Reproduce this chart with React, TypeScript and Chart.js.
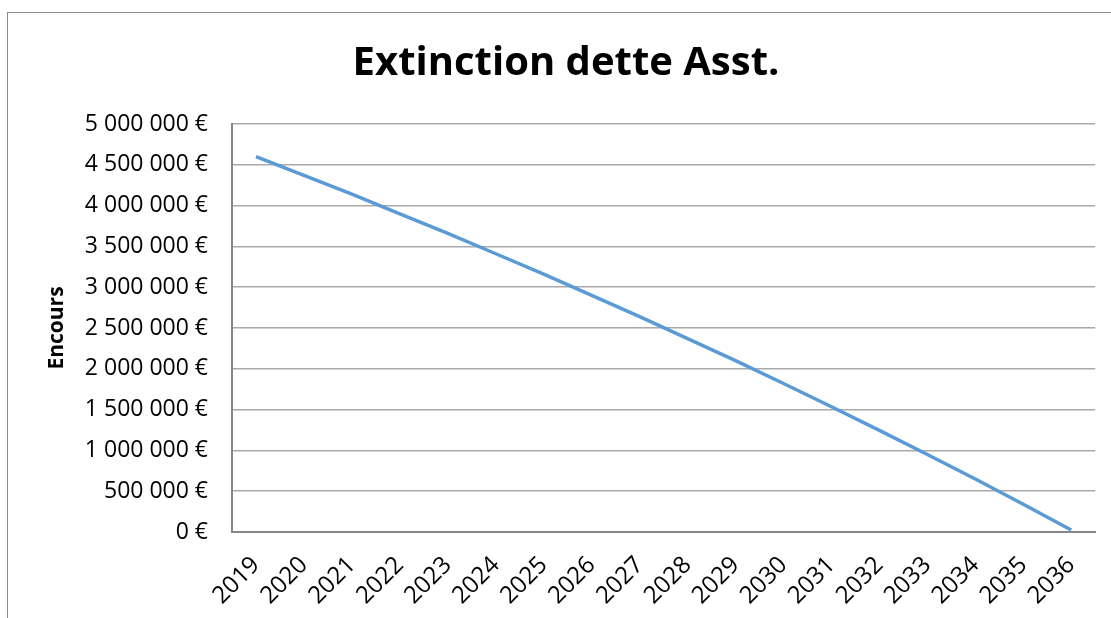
import React, { useEffect, useRef } from "react";
import { Chart, registerables } from "chart.js";

Chart.register(...registerables);

const chartTitle = "Extinction dette Asst.";
const yAxisTitle = "Encours";

const years = [
  "2019", "2020", "2021", "2022", "2023", "2024", "2025", "2026", "2027",
  "2028", "2029", "2030", "2031", "2032", "2033", "2034", "2035", "2036",
];

const encours = [
  4600000, 4370000, 4140000, 3900000, 3660000, 3410000, 3160000, 2900000, 2640000,
  2370000, 2100000, 1820000, 1535000, 1245000, 950000, 650000, 340000, 25000,
];

const yMin = 0;
const yMax = 5000000;
const yStep = 500000;

const FONT = '"Open Sans", "Noto Sans", sans-serif';

function formatEuro(v: number): string {
  const s = String(Math.round(v)).replace(/\B(?=(\d{3})+(?!\d))/g, " ");
  return s + " €";
}

export default function App() {
  const canvasRef = useRef<HTMLCanvasElement | null>(null);

  useEffect(() => {
    const canvas = canvasRef.current;
    if (!canvas) return;
    const chart = new Chart(canvas, {
      type: "line",
      data: {
        labels: years,
        datasets: [
          {
            label: yAxisTitle,
            data: encours,
            borderColor: "#5b9bd5",
            backgroundColor: "#5b9bd5",
            borderWidth: 3.5,
            pointRadius: 0,
            tension: 0,
            fill: false,
          },
        ],
      },
      options: {
        responsive: false,
        animation: false,
        devicePixelRatio: 1,
        layout: { padding: { left: 36, right: 15, top: 0, bottom: 0 } },
        plugins: {
          legend: { display: false },
          tooltip: { enabled: false },
          title: {
            display: true,
            text: chartTitle,
            color: "#000000",
            font: { family: FONT, size: 40, weight: "bold", lineHeight: 1.2 },
            padding: { top: 40, bottom: 36 },
          },
        },
        scales: {
          x: {
            type: "category",
            offset: true,
            grid: { display: false, drawTicks: false },
            border: { display: true, color: "#868686", width: 2 },
            ticks: {
              color: "#000000",
              font: { family: FONT, size: 24 },
              minRotation: 45,
              maxRotation: 45,
              autoSkip: false,
              padding: 19,
            },
            afterFit: (s: any) => {
              s.height = 86;
            },
          },
          y: {
            min: yMin,
            max: yMax,
            ticks: {
              stepSize: yStep,
              color: "#000000",
              font: { family: FONT, size: 23 },
              padding: 24,
              callback: (v: any) => formatEuro(Number(v)),
            },
            grid: { color: "#a9a9a9", lineWidth: 1.5, drawTicks: false },
            border: { display: true, color: "#868686", width: 2 },
            title: {
              display: true,
              text: yAxisTitle,
              color: "#000000",
              font: { family: FONT, size: 21, weight: "bold", lineHeight: 1.2 },
              padding: { top: 8, bottom: 0 },
            },
            afterFit: (s: any) => {
              s.width = 196;
            },
          },
        },
      },
    } as any);
    return () => chart.destroy();
  }, []);

  return (
    <>
      <div
        style={{
          position: "absolute",
          left: 7,
          top: 12,
          width: 1103,
          height: 605,
          borderLeft: "1px solid #8a8a8a",
          borderTop: "1px solid #8a8a8a",
          boxSizing: "content-box",
          pointerEvents: "none",
        }}
      />
      <canvas
        ref={canvasRef}
        width={1111}
        height={618}
        style={{ position: "absolute", left: 0, top: 0, width: 1111, height: 618 }}
      />
    </>
  );
}
